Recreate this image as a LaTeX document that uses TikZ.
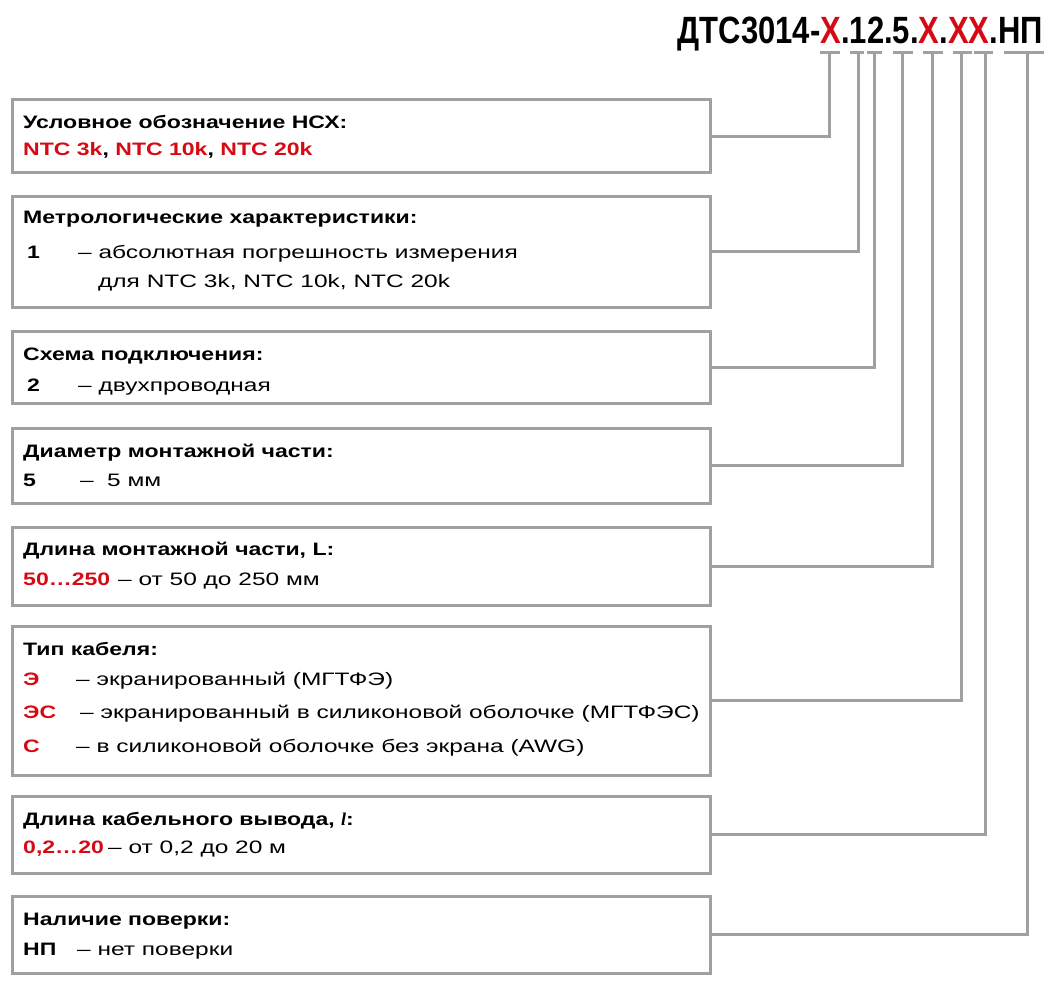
\documentclass[tikz,border=0pt]{standalone}
\usepackage{fontspec}
\setmainfont{Liberation Sans}[FakeStretch=1.36, BoldFeatures={FakeStretch=1.28}]
\newfontfamily\titlefont{Liberation Sans}
\newfontfamily\serifl{Liberation Serif}
\definecolor{redc}{RGB}{213,10,20}
\definecolor{grayc}{RGB}{160,160,160}
\begin{document}
\begin{tikzpicture}[x=1pt,y=-1pt,
  box/.style={draw=grayc,line width=3pt,fill=none},
  conn/.style={draw=grayc,line width=3pt},
  txt/.style={anchor=base west,inner sep=0pt,font=\fontsize{18}{22}\selectfont},
  btxt/.style={txt,font=\fontsize{18}{22}\selectfont\bfseries},
  rtxt/.style={btxt,text=redc}]
\useasboundingbox (0,0) rectangle (1053,983);
% title
\node[anchor=base east,inner sep=0pt] (title) at (1043,43)
  {\resizebox{365pt}{\height}{\titlefont\fontsize{38}{38}\selectfont\bfseries ДТС3014-\textcolor{redc}{X}.12.5.\textcolor{redc}{X}.\textcolor{redc}{XX}.НП}};
% tick bars
\foreach \i/\a/\b/\c in {1/820/840/829,2/850/864/858,3/867/882/874,4/893/913/902,5/923/943/932,6/953/972/961,7/974/993/985,8/1004/1044/1027}{
  \draw[conn] (\a,52) -- (\b,52);
  \coordinate (t\i) at (\c,52);
}
% boxes
\node[box,anchor=north west,minimum width=698pt,minimum height=73pt] (b1) at (10.5,98) {};
\node[box,anchor=north west,minimum width=698pt,minimum height=111pt] (b2) at (10.5,194.5) {};
\node[box,anchor=north west,minimum width=698pt,minimum height=72pt] (b3) at (10.5,330) {};
\node[box,anchor=north west,minimum width=698pt,minimum height=75pt] (b4) at (10.5,426.5) {};
\node[box,anchor=north west,minimum width=698pt,minimum height=78pt] (b5) at (10.5,525.5) {};
\node[box,anchor=north west,minimum width=698pt,minimum height=148.5pt] (b6) at (10.5,625) {};
\node[box,anchor=north west,minimum width=698pt,minimum height=76.5pt] (b7) at (10.5,795) {};
\node[box,anchor=north west,minimum width=698pt,minimum height=76.5pt] (b8) at (10.5,895) {};
% connectors
\foreach \i in {1,...,8}{ \draw[conn] (b\i.east) -| (t\i); }
% box 1
\node[btxt] (h1) at (23,128) {Условное обозначение НСХ:};
\node[txt] (l1) at (23,155) {\textbf{\textcolor{redc}{NTC 3k}, \textcolor{redc}{NTC 10k}, \textcolor{redc}{NTC 20k}}};
% box 2
\node[btxt] (h2) at (23,223) {Метрологические характеристики:};
\node[btxt] (k2) at (27,258) {1};
\node[txt] (d2) at (78,258) {– абсолютная погрешность измерения};
\node[txt] (e2) at (98,287) {для NTC 3k, NTC 10k, NTC 20k};
% box 3
\node[btxt] (h3) at (23,360) {Схема подключения:};
\node[btxt] (k3) at (27,391) {2};
\node[txt] (d3) at (78,391) {– двухпроводная};
% box 4
\node[btxt] (h4) at (23,457) {Диаметр монтажной части:};
\node[btxt] (k4) at (23,486) {5};
\node[txt] (d4) at (80,486) {–};
\node[txt] (e4) at (107,486) {5 мм};
% box 5
\node[btxt] (h5) at (23,555) {Длина монтажной части, L:};
\node[rtxt] (k5) at (23,585) {50…250};
\node[txt] (d5) at (118,585) {– от 50 до 250 мм};
% box 6
\node[btxt] (h6) at (23,655) {Тип кабеля:};
\node[rtxt] (k6a) at (23,685) {Э};
\node[txt] (d6a) at (76,685) {– экранированный (МГТФЭ)};
\node[rtxt] (k6b) at (23,718) {ЭС};
\node[txt] (d6b) at (80,718) {– экранированный в силиконовой оболочке (МГТФЭС)};
\node[rtxt] (k6c) at (23,752) {С};
\node[txt] (d6c) at (76,752) {– в силиконовой оболочке без экрана (AWG)};
% box 7
\node[btxt] (h7) at (23,825) {Длина кабельного вывода, {\serifl\bfseries\itshape l}:};
\node[rtxt] (k7) at (23,853) {0,2…20};
\node[txt] (d7) at (108,853) {– от 0,2 до 20 м};
% box 8
\node[btxt] (h8) at (23,925) {Наличие поверки:};
\node[btxt] (k8) at (23,955) {НП};
\node[txt] (d8) at (77,955) {– нет поверки};
\end{tikzpicture}
\end{document}
